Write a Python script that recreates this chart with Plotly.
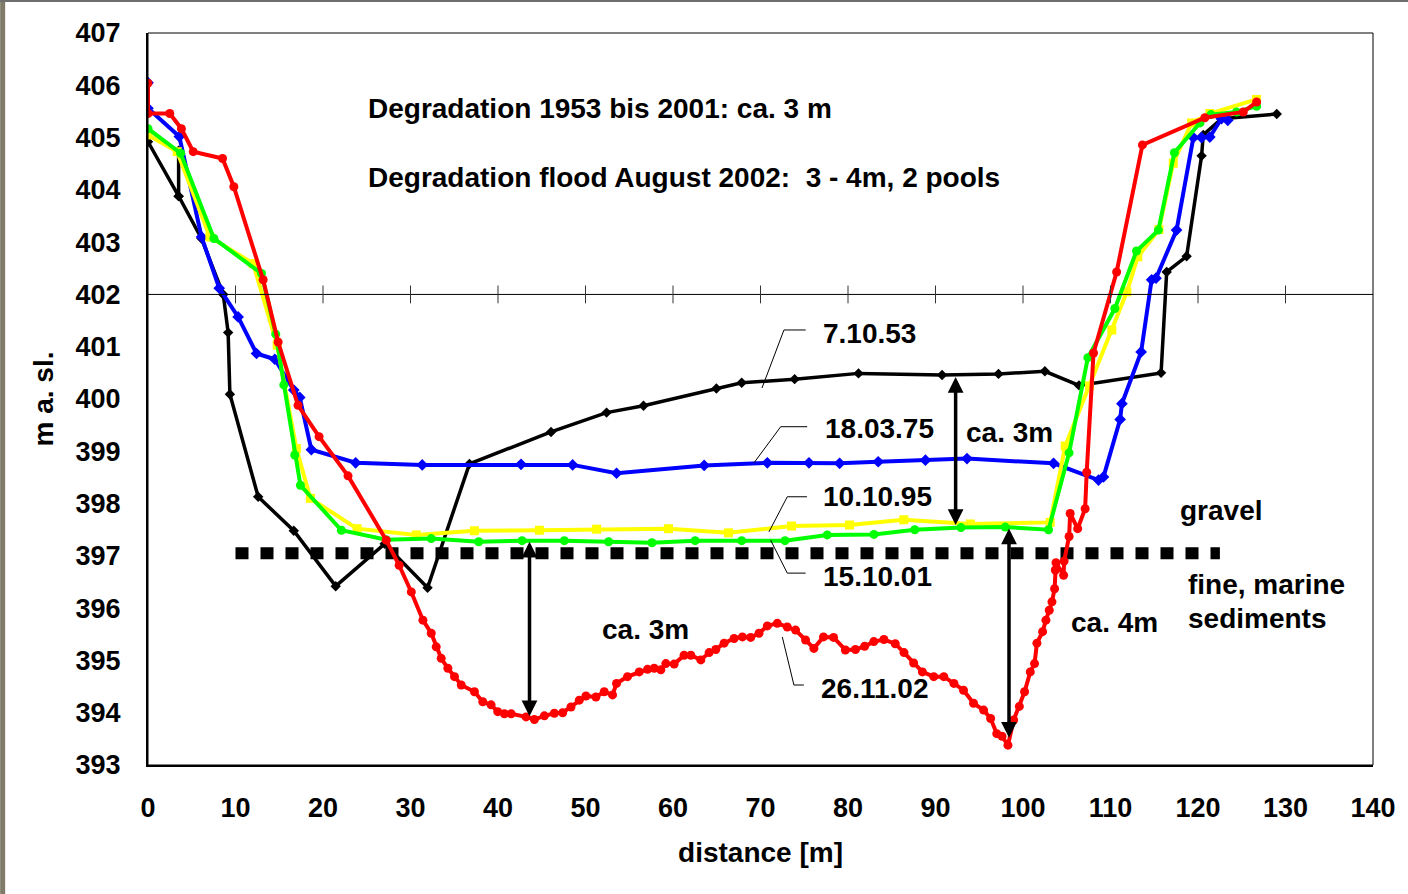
import plotly.graph_objects as go

# Cross-section survey profiles: distance [m] vs. elevation [m a. sl.]
dist_1953 = [0, 3.5, 3.5, 3.5, 6.11, 8.6, 9.16, 9.36, 12.59, 16.66, 21.45, 27.04, 31.95, 36.74,
             46.06, 52.41, 56.63, 64.96, 67.85, 73.9, 81.2, 90.75, 97.2, 102.5, 106.4, 115.78,
             116.42, 118.7, 120.41, 120.6, 122.7, 129.0]
elev_1953 = [404.92, 403.88, 404.75, 403.88, 403.07, 402.0, 401.27, 400.09, 398.13, 397.48, 396.42,
             397.23, 396.39, 398.76, 399.37, 399.74, 399.87, 400.2, 400.31, 400.38, 400.49, 400.46,
             400.48, 400.53, 400.26, 400.5, 402.43, 402.73, 404.65, 405.05, 405.36, 405.45]

dist_1975 = [0, 0, 3.58, 6.12, 8.14, 10.3, 12.4, 14.49, 16.66, 17.34, 18.67, 23.73, 31.34, 42.63,
             48.53, 53.55, 63.56, 70.78, 75.54, 79.04, 83.45, 88.85, 93.6, 103.49, 108.63, 109.2,
             111.1, 111.3, 113.5, 114.7, 115.2, 117.55, 119.47, 120.4, 121.35, 122.67, 123.4]
elev_1975 = [406.05, 405.56, 405.02, 403.1, 402.12, 401.57, 400.87, 400.76, 400.17, 400.03, 399.03,
             398.78, 398.74, 398.75, 398.74, 398.58, 398.73, 398.78, 398.78, 398.77, 398.8, 398.83,
             398.86, 398.77, 398.45, 398.51, 399.61, 399.91, 400.9, 402.28, 402.31, 403.23, 405.0,
             405.0, 405.01, 405.36, 405.33]

dist_1995 = [0, 3.34, 7.07, 12.02, 14.76, 16.96, 18.56, 23.89, 30.66, 37.3, 44.73, 51.27, 59.48,
             66.33, 73.55, 80.17, 86.38, 93.98, 103.11, 104.82, 107.6, 110.15, 111.87, 113.12,
             115.54, 117.17, 119.26, 121.35, 126.68]
elev_1995 = [405.05, 404.73, 403.1, 402.59, 401.03, 399.05, 398.1, 397.52, 397.4, 397.48, 397.49,
             397.51, 397.52, 397.44, 397.57, 397.59, 397.69, 397.61, 397.64, 399.1, 400.25, 401.32,
             402.05, 402.72, 403.24, 404.51, 405.28, 405.46, 405.73]

dist_2001 = [0, 3.73, 7.53, 12.97, 14.6, 15.52, 16.77, 17.42, 22.1, 27.23, 32.37, 37.8, 42.75,
             47.58, 52.64, 57.59, 62.53, 67.85, 72.8, 77.63, 82.96, 87.63, 92.91, 97.97, 102.92,
             105.27, 107.41, 110.5, 112.97, 115.47, 117.3, 120.22, 121.47, 124.4, 126.7]
elev_2001 = [405.17, 404.7, 403.07, 402.4, 401.24, 400.27, 398.93, 398.35, 397.49, 397.31, 397.33,
             397.27, 397.29, 397.29, 397.27, 397.25, 397.29, 397.29, 397.29, 397.4, 397.41, 397.5,
             397.54, 397.55, 397.5, 398.97, 400.79, 401.73, 402.83, 403.23, 404.71, 405.28, 405.44,
             405.49, 405.6]

dist_2002 = [0, 0, 2.49, 3.82, 5.17, 8.52, 9.81, 13.16, 14.87, 17.15, 19.55, 22.86, 27.23, 28.7,
             30.09, 31.42, 32.37, 32.94, 33.51, 34.27, 35.03, 35.8, 37.31, 38.26, 39.21, 39.97,
             40.73, 41.5, 43.21, 44.16, 45.3, 46.44, 47.39, 48.34, 49.29, 50.05, 51.19, 52.14,
             53.09, 53.55, 54.8, 56.14, 57.09, 57.85, 58.61, 59.18, 60.13, 61.27, 62.04, 63.18,
             64.13, 64.89, 65.84, 66.98, 67.93, 68.88, 69.83, 70.78, 71.92, 73.06, 74.01, 75.15,
             76.1, 77.2, 78.35, 79.7, 80.85, 81.9, 82.95, 84.1, 85.4, 86.4, 87.5, 88.5, 89.8,
             90.95, 92.1, 93.2, 94.35, 95.5, 96.3, 97.0, 97.6, 98.28, 98.93, 99.58, 100.18,
             100.83, 101.32, 101.59, 102.24, 102.62, 103.0, 103.31, 103.61, 103.69, 103.77,
             104.64, 104.7, 105.27, 105.39, 106.25, 107.1, 107.28, 108.06, 110.7, 113.65,
             120.78, 125.17, 126.7]
elev_2002 = [406.04, 405.46, 405.46, 405.17, 404.73, 404.6, 404.06, 402.28, 401.09, 399.88, 399.28,
             398.53, 397.3, 396.82, 396.31, 395.77, 395.52, 395.26, 395.04, 394.85, 394.69, 394.53,
             394.4, 394.21, 394.15, 394.02, 393.98, 393.98, 393.92, 393.87, 393.94, 393.99, 394.0,
             394.11, 394.24, 394.32, 394.3, 394.4, 394.34, 394.56, 394.69, 394.78, 394.83, 394.85,
             394.82, 394.94, 394.93, 395.1, 395.1, 395.01, 395.15, 395.21, 395.33, 395.42, 395.45,
             395.44, 395.52, 395.66, 395.71, 395.64, 395.58, 395.39, 395.23, 395.45, 395.44,
             395.2, 395.21, 395.27, 395.36, 395.4, 395.32, 395.15, 394.95, 394.78, 394.69, 394.69,
             394.56, 394.43, 394.18, 394.05, 393.89, 393.6, 393.55, 393.38, 393.86, 394.12, 394.4,
             394.78, 394.94, 395.33, 395.55, 395.77, 395.96, 396.12, 396.37, 396.73, 396.87,
             396.63, 396.9, 397.37, 397.81, 397.52, 397.9, 398.6, 400.88, 402.43, 404.86,
             405.38, 405.49, 405.68]

# Gravel / fine marine sediment boundary
boundary_x = [10, 122.5]
boundary_y = [397.05, 397.05]

# Degradation arrows: (distance, upper elevation, lower elevation)
arrows = [(43.6, 397.3, 393.93), (92.3, 400.45, 397.59), (98.4, 397.55, 393.52)]

x_ticks = list(range(0, 141, 10))
y_ticks = list(range(393, 408))

FONT = "Liberation Sans, Arial, sans-serif"
FSIZE = 27
TSIZE = 28

fig = go.Figure()

fig.add_trace(go.Scatter(x=boundary_x, y=boundary_y, mode="lines",
                         line=dict(color="black", width=12, dash="13px,12px"), hoverinfo="skip"))

series = [
    ("7.10.53", dist_1953, elev_1953, "black", "diamond", 8, 3.5),
    ("18.03.75", dist_1975, elev_1975, "#0000ff", "diamond", 9, 4),
    ("10.10.95", dist_1995, elev_1995, "#ffff00", "square", 9, 4),
    ("15.10.01", dist_2001, elev_2001, "#00ff00", "circle", 9, 4),
    ("26.11.02", dist_2002, elev_2002, "#ff0000", "circle", 9, 4),
]
for name, xs, ys, col, sym, msize, lw in series:
    fig.add_trace(go.Scatter(x=xs, y=ys, mode="lines+markers", name=name,
                             line=dict(color=col, width=lw),
                             marker=dict(color=col, symbol=sym, size=msize, line=dict(width=0))))

shapes = []
# horizontal axis line crossing at 402 with its tick marks
shapes.append(dict(type="line", xref="x", yref="y", x0=0, x1=140, y0=402, y1=402,
                   line=dict(color="black", width=1), layer="above"))
for t in x_ticks[1:-1]:
    shapes.append(dict(type="line", xref="x", yref="y", x0=t, x1=t, y0=401.83, y1=402.17,
                       line=dict(color="#333333", width=1)))
# plot frame
shapes.append(dict(type="rect", xref="paper", yref="paper", x0=0, x1=1, y0=0, y1=1,
                   line=dict(color="black", width=1)))

# leader lines for series labels
leaders = [
    [(70.17, 400.21), (72.68, 401.32), (75.16, 401.32)],
    [(69.26, 398.78), (72.31, 399.47), (75.34, 399.47)],
    [(70.97, 397.46), (73.06, 398.13), (75.31, 398.13)],
    [(71.16, 397.30), (73.06, 396.67), (75.16, 396.67)],
    [(72.49, 395.45), (73.82, 394.53), (74.96, 394.53)],
]
for pts in leaders:
    path = "M " + " L ".join(f"{x},{y}" for x, y in pts)
    shapes.append(dict(type="path", xref="x", yref="y", path=path,
                       line=dict(color="black", width=1)))

# thin dark border strips at the page edges
shapes.append(dict(type="rect", xref="paper", yref="paper", x0=-0.1207, x1=-0.1166,
                   y0=-0.177, y1=1.046, fillcolor="#7f7b68", line=dict(width=0)))
shapes.append(dict(type="rect", xref="paper", yref="paper", x0=-0.1207, x1=1.03,
                   y0=1.0424, y1=1.046, fillcolor="#6e6e6e", line=dict(width=0)))

annotations = []
for xa, ytop, ybot in arrows:
    annotations.append(dict(x=xa, y=ybot, ax=xa, ay=ytop, xref="x", yref="y", axref="x", ayref="y",
                            text="", showarrow=True, arrowhead=2, startarrowhead=2,
                            arrowside="end+start", arrowsize=0.9, startarrowsize=0.9,
                            arrowwidth=3.5, arrowcolor="black", standoff=0, startstandoff=0))

labels = [
    ("7.10.53", 76.9, 401.25),
    ("18.03.75", 77.1, 399.43),
    ("10.10.95", 76.9, 398.13),
    ("15.10.01", 76.9, 396.61),
    ("26.11.02", 76.7, 394.47),
    ("ca. 3m", 93.2, 399.35),
    ("ca. 3m", 51.6, 395.6),
    ("ca. 4m", 105.2, 395.72),
    ("gravel", 117.75, 397.86),
    ("fine, marine", 118.67, 396.46),
    ("sediments", 118.67, 395.81),
    ("Degradation 1953 bis 2001: ca. 3 m", 24.87, 405.56),
    ("Degradation flood August 2002:  3 - 4m, 2 pools", 24.87, 404.23),
]
for txt, x, y in labels:
    annotations.append(dict(x=x, y=y, xref="x", yref="y", text=txt, showarrow=False,
                            xanchor="left", yanchor="middle",
                            font=dict(family=FONT, size=TSIZE, color="black", weight="bold")))

fig.update_layout(
    width=1408, height=894,
    margin=dict(l=148, r=33, t=33, b=129),
    paper_bgcolor="white", plot_bgcolor="white",
    showlegend=False,
    font=dict(family=FONT, size=FSIZE, color="black", weight="bold"),
    shapes=shapes, annotations=annotations,
    xaxis=dict(range=[0, 140], tickvals=x_ticks, ticks="", showgrid=False, zeroline=False,
               showline=True, linecolor="black", linewidth=2, ticklabelstandoff=18,
               title=dict(text="distance [m]", standoff=20,
                          font=dict(family=FONT, size=TSIZE, weight="bold"))),
    yaxis=dict(range=[393, 407], tickvals=y_ticks, ticks="", showgrid=False, zeroline=False,
               showline=True, linecolor="black", linewidth=2, ticklabelstandoff=20,
               title=dict(text="m a. sl.", standoff=14,
                          font=dict(family=FONT, size=TSIZE, weight="bold"))),
)

fig.write_html("out.html")
